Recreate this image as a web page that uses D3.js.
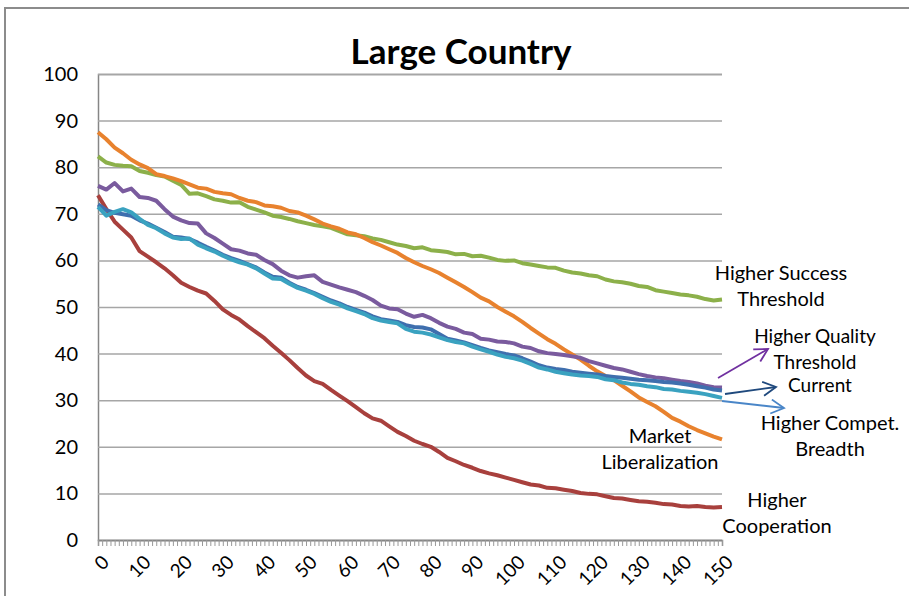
<!DOCTYPE html>
<html>
<head>
<meta charset="utf-8">
<script src="https://cdn.jsdelivr.net/npm/d3@7"></script>
<style>
  body { margin: 0; background: #fff; }
  text { font-family: Lato, "Open Sans", sans-serif; fill: #000; }
</style>
</head>
<body>
<div id="the_chart"></div>
<script>
const width = 909;
const height = 596;

// x positions of the sampled points (every 2nd run)
const steps = d3.range(0, 151, 2);
const xTicks = [0, 10, 20, 30, 40, 50, 60, 70, 80, 90, 100, 110, 120, 130, 140, 150];
const yTicks = [0, 10, 20, 30, 40, 50, 60, 70, 80, 90, 100];

const marketLib = [87.5, 86, 84.2, 83, 81.6, 80.6, 79.8, 78.5, 78.1, 77.6, 77, 76.3, 75.6, 75.4, 74.7, 74.4, 74.2, 73.4, 72.8, 72.5,
  71.8, 71.6, 71.3, 70.6, 70.3, 69.6, 68.8, 67.9, 67.3, 66.8, 66, 65.6, 64.8, 63.9, 63.2, 62.4, 61.6, 60.5, 59.6, 58.8,
  58.1, 57.3, 56.3, 55.3, 54.3, 53.2, 52, 51.2, 50, 49, 48, 46.8, 45.5, 44.3, 43.1, 42.1, 40.9, 39.8, 38.7, 37.4,
  36.2, 35.2, 34.3, 33.1, 31.9, 30.6, 29.6, 28.7, 27.5, 26.2, 25.4, 24.4, 23.6, 22.9, 22.2, 21.6];
const successThr = [82.3, 81, 80.5, 80.3, 80.2, 79.2, 78.8, 78.3, 78, 77.1, 76.2, 74.3, 74.4, 73.8, 73.1, 72.8, 72.4, 72.5, 71.5, 70.9,
  70.3, 69.6, 69.3, 68.9, 68.4, 68, 67.6, 67.3, 67, 66.3, 65.6, 65.4, 65.2, 64.7, 64.4, 63.9, 63.4, 63.1, 62.6, 62.8,
  62.2, 62, 61.8, 61.3, 61.4, 60.9, 61, 60.6, 60.1, 59.9, 60, 59.4, 59.1, 58.8, 58.5, 58.4, 57.8, 57.4, 57.2, 56.8,
  56.6, 55.9, 55.5, 55.3, 55, 54.5, 54.3, 53.6, 53.3, 53, 52.7, 52.5, 52.2, 51.7, 51.4, 51.6];
const qualityThr = [76, 75.2, 76.6, 74.8, 75.4, 73.6, 73.4, 72.8, 71, 69.4, 68.6, 68, 67.9, 65.8, 64.8, 63.6, 62.4, 62.1, 61.5, 61.2,
  60.1, 59.2, 57.8, 56.8, 56.3, 56.6, 56.8, 55.4, 54.8, 54.2, 53.7, 53.2, 52.4, 51.5, 50.3, 49.7, 49.5, 48.6, 47.9, 48.3,
  47.6, 46.6, 45.8, 45.3, 44.5, 44.2, 43.2, 43, 42.6, 42.5, 42.2, 41.5, 41.2, 40.5, 40.1, 39.9, 39.7, 39.4, 39.1, 38.4,
  37.9, 37.4, 36.9, 36.6, 36.1, 35.6, 35.2, 34.9, 34.7, 34.4, 34.1, 33.9, 33.6, 33.1, 32.8, 32.7];
const current = [72, 70.8, 70.2, 69.9, 69.6, 68.6, 67.9, 67, 66.1, 65.1, 64.9, 64.6, 63.8, 62.9, 62.1, 61.2, 60.5, 59.9, 59.2, 58.5,
  57.4, 56.5, 56.3, 55.2, 54.3, 53.7, 53, 52.2, 51.4, 50.8, 50, 49.4, 48.8, 48, 47.4, 47.1, 46.8, 46.1, 45.7, 45.6,
  45.2, 44.2, 43.2, 42.8, 42.4, 41.8, 41.2, 40.7, 40.3, 39.9, 39.6, 39, 38.3, 37.5, 37, 36.7, 36.5, 36.1, 35.9, 35.7,
  35.5, 35.2, 35, 34.8, 34.6, 34.4, 34.3, 34.1, 33.9, 33.8, 33.6, 33.3, 33, 32.7, 32.3, 32.1];
const competBreadth = [71.5, 69.6, 70.4, 71, 70.3, 68.9, 67.6, 66.9, 65.8, 64.9, 64.6, 64.7, 63.4, 62.6, 61.9, 61, 60.2, 59.6, 59.1, 58.3,
  57.2, 56.1, 56, 55, 54.1, 53.5, 52.8, 51.9, 51.1, 50.5, 49.7, 49.1, 48.5, 47.6, 47.1, 46.8, 46.5, 45.3, 44.7, 44.5,
  44.1, 43.5, 42.9, 42.5, 42.2, 41.5, 40.9, 40.4, 39.8, 39.3, 39, 38.5, 37.8, 37, 36.6, 36.1, 35.8, 35.5, 35.3, 35.2,
  35, 34.5, 34.3, 33.8, 33.5, 33.3, 33, 32.8, 32.4, 32.3, 32, 31.8, 31.6, 31.3, 30.9, 30.5];
const cooperation = [74, 71, 68.3, 66.6, 64.9, 62, 60.8, 59.6, 58.3, 56.8, 55.2, 54.3, 53.5, 52.9, 51.3, 49.5, 48.3, 47.3, 45.9, 44.6,
  43.3, 41.7, 40.2, 38.6, 36.9, 35.3, 34.1, 33.5, 32.2, 31, 29.8, 28.5, 27.2, 26.1, 25.6, 24.4, 23.2, 22.3, 21.3, 20.6,
  20, 18.9, 17.6, 16.9, 16.1, 15.5, 14.8, 14.3, 13.9, 13.4, 12.9, 12.4, 11.9, 11.7, 11.2, 11.1, 10.8, 10.5, 10.1, 9.9,
  9.8, 9.4, 9, 8.9, 8.6, 8.3, 8.2, 8, 7.7, 7.6, 7.3, 7.2, 7.3, 7.1, 7, 7.1];

const series = [
  { name: 'Higher Success Threshold', values: successThr, color: '#8cb04a' },
  { name: 'Market Liberalization', values: marketLib, color: '#e8822e' },
  { name: 'Higher Cooperation', values: cooperation, color: '#a8403d' },
  { name: 'Higher Quality Threshold', values: qualityThr, color: '#7a5b9e' },
  { name: 'Current', values: current, color: '#3f6fae' },
  { name: 'Higher Compet. Breadth', values: competBreadth, color: '#3aa2c0' }
];

const labels = [
  { lines: ['Higher Success', 'Threshold'], x: 781, y: 280, size: 20 },
  { lines: ['Higher Quality', 'Threshold'], x: 815, y: 343, size: 19 },
  { lines: ['Current'], x: 820, y: 392, size: 19 },
  { lines: ['Higher Compet.', 'Breadth'], x: 830, y: 430, size: 20 },
  { lines: ['Market', 'Liberalization'], x: 660, y: 443, size: 20 },
  { lines: ['Higher', 'Cooperation'], x: 777, y: 507, size: 20 }
];

const arrows = [
  { from: [718, 378], to: [768, 349], color: '#7030a0' },
  { from: [725, 394], to: [776, 387], color: '#1f497d' },
  { from: [722, 401], to: [784, 408], color: '#4a86c8' }
];

const svg = d3.select('#the_chart')
  .append('svg')
  .attr('width', width)
  .attr('height', height);

// outer chart frame
svg.append('rect')
  .attr('x', 5).attr('y', 8)
  .attr('width', 940).attr('height', 640)
  .attr('fill', 'none')
  .attr('stroke', '#8c8c8c')
  .attr('stroke-width', 2);

const xScale = d3.scaleLinear().domain([0, 150]).range([98, 722]);
const yScale = d3.scaleLinear().domain([0, 100]).range([540, 74]);

svg.append('text')
  .attr('x', 461).attr('y', 64)
  .attr('text-anchor', 'middle')
  .attr('font-size', 35)
  .attr('font-weight', 'bold')
  .text('Large Country');

// gridlines + y labels
const yAxis = d3.axisLeft(yScale)
  .tickValues(yTicks)
  .tickSize(-(722 - 98))
  .tickPadding(20);

svg.append('g')
  .attr('transform', 'translate(98,0)')
  .call(yAxis)
  .call(g => g.select('.domain').attr('stroke', '#868686').attr('stroke-width', 1.5))
  .call(g => g.selectAll('.tick line').attr('stroke', '#a6a6a6').attr('stroke-width', 1.5))
  .call(g => g.selectAll('.tick text').attr('font-size', 20).attr('font-family', 'Lato, sans-serif').attr('fill', '#000'));

// x axis: minor tick every run, labels every 10
const xAxisMinor = d3.axisBottom(xScale)
  .tickValues(d3.range(0, 151))
  .tickSize(6)
  .tickFormat('');

svg.append('g')
  .attr('transform', 'translate(0,540)')
  .call(xAxisMinor)
  .call(g => g.select('.domain').attr('stroke', '#868686').attr('stroke-width', 1.5))
  .call(g => g.selectAll('.tick line').attr('stroke', '#999'));

svg.append('g')
  .selectAll('text')
  .data(xTicks)
  .enter().append('text')
  .attr('transform', d => `translate(${xScale(d) + 3},554) rotate(-45)`)
  .attr('text-anchor', 'end')
  .attr('dy', '0.7em')
  .attr('font-size', 19)
  .text(d => d);

const line = d3.line()
  .x((d, i) => xScale(steps[i]))
  .y(d => yScale(d));

svg.append('g')
  .selectAll('path')
  .data(series)
  .enter().append('path')
  .attr('d', d => line(d.values))
  .attr('fill', 'none')
  .attr('stroke', d => d.color)
  .attr('stroke-width', 4)
  .attr('stroke-linejoin', 'round');

// series labels
labels.forEach(l => {
  const t = svg.append('text')
    .attr('x', l.x).attr('y', l.y)
    .attr('text-anchor', 'middle')
    .attr('font-size', l.size);
  l.lines.forEach((s, i) => {
    t.append('tspan').attr('x', l.x).attr('dy', i === 0 ? 0 : 25.5).text(s);
  });
});

// arrows with open heads
arrows.forEach((a, i) => {
  svg.append('defs').append('marker')
    .attr('id', 'arr' + i)
    .attr('viewBox', '0 0 16 16')
    .attr('refX', 14).attr('refY', 8)
    .attr('markerWidth', 16).attr('markerHeight', 16)
    .attr('markerUnits', 'userSpaceOnUse')
    .attr('orient', 'auto')
    .append('path')
    .attr('d', 'M1,1 L14,8 L1,15')
    .attr('fill', 'none')
    .attr('stroke', a.color)
    .attr('stroke-width', 1.8);

  svg.append('line')
    .attr('x1', a.from[0]).attr('y1', a.from[1])
    .attr('x2', a.to[0]).attr('y2', a.to[1])
    .attr('stroke', a.color)
    .attr('stroke-width', 1.8)
    .attr('marker-end', `url(#arr${i})`);
});
</script>
</body>
</html>
